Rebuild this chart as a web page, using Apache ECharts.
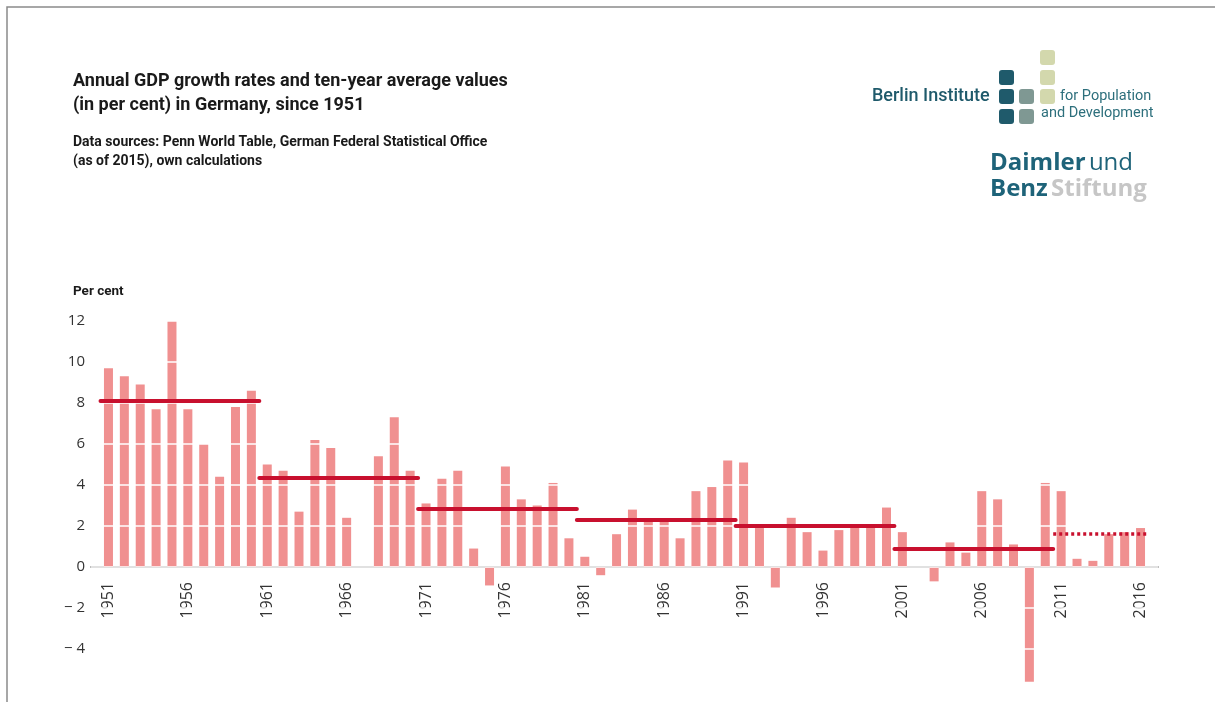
<!DOCTYPE html>
<html>
<head>
<meta charset="utf-8">
<script src="https://cdn.jsdelivr.net/npm/echarts@6/dist/echarts.min.js"></script>
<style>
  html, body { margin: 0; padding: 0; background: #fff; }
  #chart { width: 1215px; height: 702px; }
</style>
</head>
<body>
<div id="chart"></div>
<script>
const years = [
  1951, 1952, 1953, 1954, 1955, 1956, 1957, 1958, 1959, 1960,
  1961, 1962, 1963, 1964, 1965, 1966, 1967, 1968, 1969, 1970,
  1971, 1972, 1973, 1974, 1975, 1976, 1977, 1978, 1979, 1980,
  1981, 1982, 1983, 1984, 1985, 1986, 1987, 1988, 1989, 1990,
  1991, 1992, 1993, 1994, 1995, 1996, 1997, 1998, 1999, 2000,
  2001, 2002, 2003, 2004, 2005, 2006, 2007, 2008, 2009, 2010,
  2011, 2012, 2013, 2014, 2015, 2016
]
const growth = [
  9.7, 9.3, 8.9, 7.7, 12.1, 7.7, 6.0, 4.4, 7.8, 8.6,
  5.0, 4.7, 2.7, 6.2, 5.8, 2.4, 0, 5.4, 7.3, 4.7,
  3.1, 4.3, 4.7, 0.9, -0.9, 4.9, 3.3, 3.0, 4.1, 1.4,
  0.5, -0.4, 1.6, 2.8, 2.2, 2.3, 1.4, 3.7, 3.9, 5.2,
  5.1, 1.9, -1.0, 2.4, 1.7, 0.8, 1.8, 2.0, 2.0, 2.9,
  1.7, 0, -0.7, 1.2, 0.7, 3.7, 3.3, 1.1, -5.6, 4.1,
  3.7, 0.4, 0.3, 1.6, 1.7, 1.9
]
// ten-year averages (last one is the incomplete decade, drawn dotted)
const avgFrom = [1951, 1961, 1971, 1981, 1991, 2001, 2011]
const avgTo = [1960, 1970, 1980, 1990, 2000, 2010, 2016]
const avgValue = [8.1, 4.35, 2.85, 2.3, 2.0, 0.9, 1.6]
const yearTicks = [1951, 1956, 1961, 1966, 1971, 1976, 1981, 1986, 1991, 1996, 2001, 2006, 2011, 2016]

const barColor = '#f09090'
const avgColor = '#c8102e'
const teal = '#1f5a6b'

const chart = echarts.init(document.getElementById('chart'), null, { renderer: 'canvas' })

const avgLines = avgFrom.map((from, i) => {
  const last = i === avgFrom.length - 1
  return [
    {
      coord: [from - 0.5, avgValue[i]],
      lineStyle: {
        color: avgColor,
        width: last ? 3.5 : 4,
        type: last ? [3, 3] : 'solid',
        cap: last ? 'butt' : 'round'
      }
    },
    { coord: [avgTo[i] + 0.5, avgValue[i]] }
  ]
})

function square(x, y, fill) {
  return { type: 'rect', silent: true, shape: { x, y, width: 15, height: 15, r: 3 }, style: { fill } }
}

const option = {
  backgroundColor: '#fff',
  animation: false,
  textStyle: { fontFamily: 'Roboto, "Noto Sans", sans-serif' },
  title: [
    {
      text: 'Annual GDP growth rates and ten-year average values\n(in per cent) in Germany, since 1951',
      left: 68,
      top: 64,
      textStyle: { fontSize: 18, fontWeight: 'bold', color: '#1a1a1a', lineHeight: 24 }
    },
    {
      text: 'Data sources: Penn World Table, German Federal Statistical Office\n(as of 2015), own calculations',
      left: 68,
      top: 128,
      textStyle: { fontSize: 14, fontWeight: 'bold', color: '#1a1a1a', lineHeight: 19 }
    },
    {
      text: 'Per cent',
      left: 68,
      top: 280,
      textStyle: { fontSize: 13.5, fontWeight: 'bold', color: '#1a1a1a' }
    }
  ],
  graphic: [
    {
      type: 'polyline',
      silent: true,
      shape: { points: [[7, 1000], [7, 7], [1300, 7]] },
      style: { stroke: '#8a8a8a', lineWidth: 1.5, fill: null }
    },
    { type: 'text', silent: true, x: 872, y: 87, style: { text: 'Berlin Institute', fill: teal, font: '500 18px Roboto, sans-serif' } },
    square(1040, 50, '#d3d8ad'),
    square(999, 70, teal),
    square(1040, 70, '#d3d8ad'),
    square(999, 89, teal),
    square(1019, 89, '#7f9893'),
    square(1040, 89, '#d3d8ad'),
    square(999, 109, teal),
    square(1019, 109, '#7f9893'),
    { type: 'text', silent: true, x: 1060, y: 89, style: { text: 'for Population', fill: '#2d6f7c', font: '14.5px Roboto, sans-serif' } },
    { type: 'text', silent: true, x: 1041, y: 106, style: { text: 'and Development', fill: '#2d6f7c', font: '14.5px Roboto, sans-serif' } },
    {
      type: 'text', silent: true, x: 990, y: 150,
      style: {
        text: '{b|Daimler} {r|und}\n{b|Benz} {g|Stiftung}',
        rich: {
          b: { fill: '#1e6379', font: 'bold 24px "Open Sans", sans-serif', lineHeight: 26 },
          r: { fill: '#1e6379', font: '24px "Open Sans", sans-serif', lineHeight: 26 },
          g: { fill: '#c6c6c6', font: 'bold 24px "Open Sans", sans-serif', lineHeight: 26 }
        }
      }
    }
  ],
  grid: {
    left: 91,
    right: 57,
    top: 321,
    bottom: 12,
    outerBoundsMode: 'none'
  },
  xAxis: {
    type: 'value',
    min: 1949.9,
    max: 2017.1,
    axisLine: { onZero: true, lineStyle: { color: '#5f5f5f', width: 1.5 } },
    axisTick: { show: false },
    splitLine: { show: false },
    axisLabel: {
      customValues: yearTicks,
      formatter: v => String(v),
      rotate: 90,
      margin: -108,
      fontSize: 16,
      color: '#333',
      fontFamily: '"Open Sans", sans-serif'
    }
  },
  yAxis: {
    type: 'value',
    min: -6,
    max: 12,
    interval: 2,
    z: 10,
    axisLine: { show: false },
    axisTick: { show: false },
    splitLine: { show: true, lineStyle: { color: '#ffffff', width: 1.5 } },
    axisLabel: {
      margin: 6,
      fontSize: 15,
      color: '#333',
      fontFamily: '"Open Sans", sans-serif',
      formatter: v => (v === -6 ? '' : v < 0 ? '\u2212 ' + Math.abs(v) : String(v))
    }
  },
  series: [
    {
      name: 'GDP growth',
      type: 'bar',
      barWidth: 9,
      itemStyle: { color: barColor },
      data: years.map((y, i) => [y, growth[i]]),
      markLine: {
        silent: true,
        symbol: 'none',
        label: { show: false },
        emphasis: { disabled: true },
        z: 20,
        data: avgLines
      }
    }
  ]
}

chart.setOption(option)
</script>
</body>
</html>
